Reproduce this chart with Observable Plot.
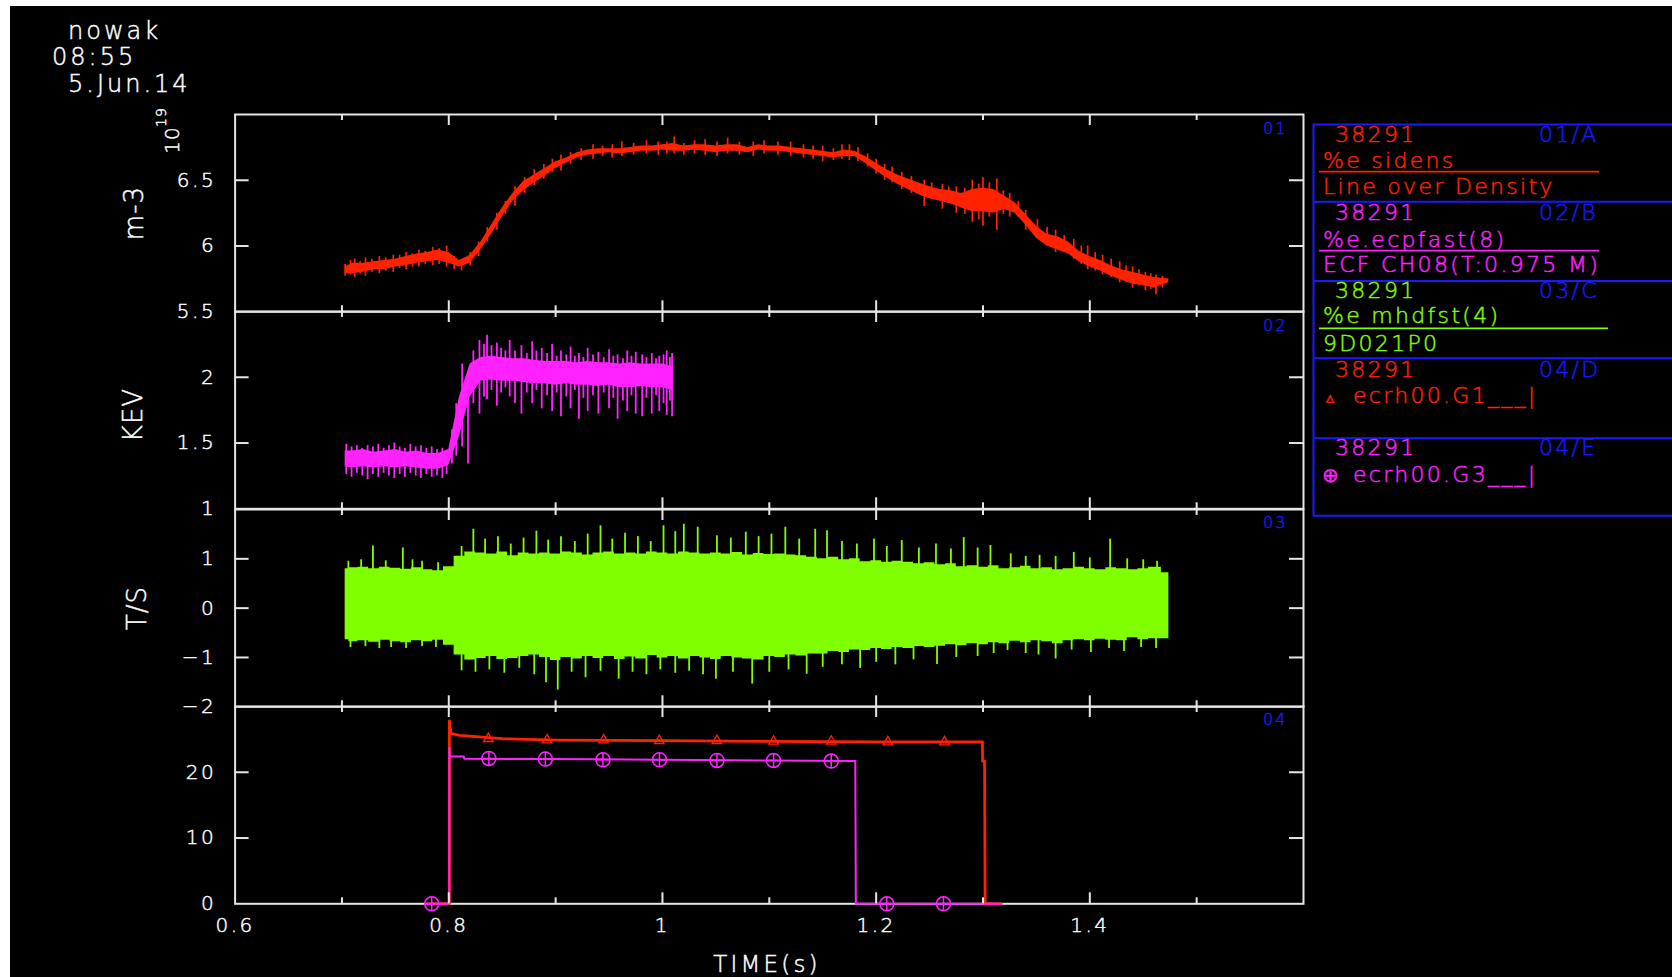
<!DOCTYPE html>
<html><head><meta charset="utf-8">
<script src="https://cdn.jsdelivr.net/npm/d3@7"></script>
<script src="https://cdn.jsdelivr.net/npm/@observablehq/plot@0.6"></script>
<style>
html,body{margin:0;padding:0;background:#fff;width:1672px;height:977px;overflow:hidden;}
#bg{position:absolute;left:10px;top:6px;width:1662px;height:971px;background:#000;}
#overlay{position:absolute;left:0;top:0;}
#panels text{stroke:currentColor;stroke-width:0.45px;}
</style></head><body>
<div id="bg"></div>
<div id="panels"></div>
<svg id="overlay" width="1672" height="977"></svg>
<script>
// ---------------- DATA ----------------
const gridTime = [0.703,0.71,0.72,0.73,0.74,0.75,0.76,0.77,0.78,0.79,0.80,0.81,0.82,0.83,0.84,0.85,0.86,0.87,0.88,0.89,0.90,0.91,0.92,0.93,0.94,0.95,0.96,0.97,0.98,0.99,1.00,1.01,1.02,1.03,1.04,1.05,1.06,1.07,1.08,1.09,1.10,1.11,1.12,1.13,1.14,1.15,1.16,1.17,1.18,1.19,1.20,1.21,1.22,1.23,1.24,1.25,1.26,1.27,1.28,1.29,1.30,1.31,1.32,1.33,1.34,1.35,1.36,1.37,1.38,1.39,1.40,1.41,1.42,1.43,1.44,1.45,1.46,1.474];

// panel 01: line-averaged density (10^19 m-3), core band of the noisy trace
const densLo = [5.79,5.79,5.80,5.82,5.82,5.84,5.85,5.87,5.88,5.89,
 5.87,5.84,5.87,5.97,6.09,6.22,6.34,6.42,6.48,6.53,
 6.59,6.63,6.67,6.69,6.70,6.71,6.70,6.71,6.72,6.72,
 6.73,6.72,6.72,6.73,6.72,6.71,6.72,6.72,6.71,6.73,
 6.72,6.72,6.71,6.70,6.69,6.68,6.67,6.68,6.68,6.63,
 6.57,6.52,6.47,6.43,6.39,6.36,6.34,6.32,6.29,6.26,
 6.26,6.25,6.28,6.25,6.16,6.06,6.00,5.97,5.94,5.88,
 5.84,5.81,5.77,5.74,5.71,5.70,5.68,5.72];
const densHi = [5.84,5.87,5.87,5.88,5.89,5.90,5.92,5.94,5.95,5.97,
 5.95,5.89,5.93,6.03,6.16,6.29,6.40,6.49,6.54,6.59,
 6.64,6.67,6.71,6.73,6.74,6.74,6.74,6.75,6.76,6.76,
 6.77,6.78,6.76,6.77,6.77,6.76,6.77,6.77,6.75,6.77,
 6.76,6.76,6.75,6.74,6.73,6.72,6.71,6.73,6.72,6.68,
 6.63,6.58,6.54,6.51,6.48,6.45,6.43,6.42,6.40,6.43,
 6.44,6.43,6.38,6.33,6.24,6.15,6.09,6.07,6.03,5.96,
 5.92,5.89,5.85,5.82,5.80,5.78,5.76,5.75];
const densSpikeT  = [0.703,0.708,0.712,0.717,0.722,0.728,0.735,0.741,0.748,0.754,0.760,0.766,0.772,0.778,0.785,0.791,0.798,0.805,0.812,0.820,0.828,0.836,0.845,0.853,0.862,0.871,0.880,0.889,0.897,0.905,0.914,0.924,0.935,0.944,0.953,0.962,0.973,0.985,0.996,1.004,1.011,1.020,1.030,1.040,1.051,1.061,1.072,1.085,1.095,1.108,1.120,1.132,1.141,1.150,1.160,1.168,1.175,1.183,1.192,1.200,1.208,1.215,1.224,1.233,1.245,1.252,1.262,1.268,1.275,1.283,1.290,1.296,1.300,1.306,1.313,1.319,1.325,1.333,1.340,1.351,1.360,1.368,1.376,1.385,1.392,1.398,1.405,1.412,1.420,1.428,1.434,1.440,1.446,1.452,1.457,1.462,1.468];
const densSpikeLo = [5.77,5.78,5.76,5.79,5.77,5.80,5.79,5.81,5.80,5.83,5.82,5.84,5.84,5.86,5.85,5.86,5.84,5.82,5.81,5.85,5.92,6.03,6.12,6.24,6.30,6.40,6.46,6.51,6.56,6.57,6.62,6.65,6.66,6.68,6.67,6.68,6.69,6.70,6.69,6.70,6.70,6.69,6.70,6.69,6.68,6.70,6.69,6.68,6.70,6.69,6.68,6.67,6.66,6.64,6.65,6.66,6.65,6.64,6.60,6.55,6.50,6.48,6.43,6.40,6.30,6.36,6.28,6.33,6.25,6.24,6.18,6.20,6.15,6.22,6.12,6.24,6.22,6.22,6.12,6.10,6.00,5.95,5.95,5.90,5.86,5.82,5.81,5.78,5.76,5.72,5.72,5.68,5.70,5.66,5.67,5.63,5.68];
const densSpikeHi = [5.86,5.89,5.90,5.88,5.91,5.90,5.92,5.91,5.93,5.93,5.95,5.94,5.97,5.96,5.99,5.98,6.00,5.92,5.89,5.95,6.03,6.14,6.25,6.34,6.45,6.52,6.58,6.62,6.66,6.69,6.71,6.74,6.77,6.76,6.77,6.79,6.78,6.80,6.79,6.79,6.83,6.78,6.80,6.81,6.79,6.82,6.79,6.79,6.80,6.79,6.79,6.77,6.76,6.76,6.74,6.77,6.77,6.75,6.70,6.66,6.62,6.60,6.56,6.53,6.50,6.48,6.47,6.45,6.45,6.44,6.50,6.47,6.52,6.48,6.51,6.42,6.40,6.34,6.27,6.20,6.14,6.12,6.08,6.05,6.00,6.00,5.95,5.93,5.90,5.88,5.85,5.84,5.82,5.80,5.79,5.78,5.77];

// panel 02: ECE channel 8 (keV), 0.70 .. 1.01 s
const ecpTime = gridTime.slice(0, 32);
const ecpLo = [1.32,1.31,1.32,1.31,1.32,1.31,1.32,1.31,1.30,1.30,
 1.33,1.55,1.85,1.97,1.98,1.97,1.97,1.96,1.95,1.95,
 1.94,1.95,1.94,1.94,1.93,1.94,1.92,1.92,1.93,1.92,
 1.92,1.90];
const ecpHi = [1.44,1.44,1.45,1.43,1.44,1.45,1.43,1.44,1.42,1.42,
 1.45,1.85,2.10,2.15,2.16,2.15,2.14,2.14,2.13,2.12,
 2.12,2.12,2.11,2.12,2.11,2.11,2.10,2.11,2.10,2.10,
 2.10,2.08];
const ecpSpikeT  = [0.704,0.709,0.714,0.719,0.724,0.729,0.734,0.739,0.744,0.749,0.754,0.759,0.764,0.769,0.774,0.779,0.784,0.789,0.794,0.798,
 0.803,0.807,0.8125,0.818,0.823,
 0.8287,0.833,0.8358,0.840,0.845,0.849,0.853,0.857,0.862,0.868,0.873,0.878,0.882,0.887,0.892,0.8967,0.901,0.905,0.910,0.914,0.918,0.9218,0.926,0.930,0.935,0.940,0.945,0.950,0.954,0.958,0.963,0.967,0.971,0.975,0.981,0.985,0.990,0.994,0.997,1.001,1.004,1.007,1.009];
const ecpSpikeLo = [1.26,1.24,1.27,1.25,1.22,1.26,1.24,1.27,1.25,1.23,1.26,1.24,1.27,1.25,1.23,1.26,1.24,1.25,1.23,1.26,
 1.34,1.40,1.47,1.34,1.80,
 1.72,1.85,1.83,1.90,1.78,1.88,1.92,1.85,1.80,1.72,1.88,1.80,1.90,1.76,1.86,1.74,1.88,1.70,1.85,1.76,1.90,1.68,1.84,1.74,1.86,1.72,1.88,1.76,1.84,1.68,1.82,1.74,1.86,1.72,1.70,1.84,1.72,1.86,1.74,1.80,1.71,1.82,1.70];
const ecpSpikeHi = [1.49,1.47,1.48,1.46,1.48,1.47,1.49,1.46,1.48,1.50,1.47,1.46,1.49,1.47,1.48,1.46,1.47,1.45,1.46,1.44,
 1.60,1.80,2.10,1.95,2.20,
 2.28,2.25,2.32,2.24,2.26,2.22,2.20,2.28,2.20,2.24,2.18,2.27,2.20,2.22,2.18,2.25,2.16,2.20,2.17,2.23,2.16,2.18,2.15,2.22,2.17,2.19,2.15,2.21,2.16,2.17,2.14,2.20,2.16,2.19,2.17,2.15,2.18,2.14,2.16,2.17,2.20,2.15,2.18];

// panel 03: magnetic pick-up coil (T/s), envelope
const mhdHi = [0.80,0.82,0.83,0.80,0.83,0.81,0.79,0.82,0.78,0.76,
 0.84,1.05,1.14,1.12,1.10,1.14,1.06,1.12,1.10,1.12,
 1.10,1.14,1.12,1.08,1.12,1.14,1.10,1.12,1.10,1.14,
 1.12,1.10,1.14,1.12,1.10,1.12,1.10,1.13,1.08,1.11,
 1.09,1.10,1.08,1.06,1.03,1.00,1.03,0.98,1.00,0.94,
 0.96,0.93,0.95,0.93,0.90,0.92,0.88,0.90,0.84,0.86,
 0.83,0.86,0.80,0.82,0.85,0.80,0.82,0.78,0.80,0.83,
 0.80,0.78,0.82,0.80,0.78,0.80,0.83,0.72];
const mhdLo = [-0.64,-0.68,-0.66,-0.69,-0.65,-0.68,-0.70,-0.66,-0.68,-0.65,
 -0.75,-0.95,-1.05,-1.02,-0.98,-1.04,-1.02,-0.98,-0.95,-1.00,
 -1.06,-1.00,-1.03,-0.98,-1.02,-0.98,-1.04,-0.99,-1.03,-0.96,
 -1.01,-0.98,-1.03,-0.98,-1.01,-1.04,-0.98,-1.01,-1.03,-1.05,
 -0.98,-1.00,-0.95,-0.97,-0.93,-0.93,-0.88,-0.90,-0.85,-0.86,
 -0.82,-0.84,-0.80,-0.82,-0.78,-0.80,-0.77,-0.74,-0.76,-0.72,
 -0.74,-0.70,-0.72,-0.67,-0.70,-0.66,-0.68,-0.72,-0.66,-0.64,
 -0.66,-0.63,-0.65,-0.66,-0.60,-0.64,-0.62,-0.62];
const mhdUpT = [0.706,0.718,0.729,0.741,0.757,0.766,0.775,0.790,0.812,0.823,0.834,0.846,0.858,0.870,0.882,0.893,0.905,0.918,0.930,0.942,0.953,0.965,0.977,0.989,1.001,1.012,1.020,1.033,1.051,1.064,1.078,1.090,1.102,1.115,1.128,1.143,1.154,1.168,1.182,1.198,1.210,1.224,1.240,1.256,1.270,1.282,1.295,1.307,1.326,1.340,1.353,1.368,1.385,1.400,1.419,1.435,1.450,1.463];
const mhdUpV = [0.95,0.98,1.26,0.96,1.22,0.98,0.95,0.92,1.25,1.60,1.40,1.45,1.30,1.42,1.56,1.38,1.45,1.35,1.50,1.67,1.40,1.52,1.45,1.35,1.67,1.55,1.70,1.64,1.47,1.42,1.54,1.45,1.50,1.64,1.40,1.60,1.57,1.35,1.30,1.40,1.25,1.37,1.22,1.30,1.20,1.43,1.22,1.27,1.10,1.05,1.07,1.05,1.13,1.02,1.40,1.00,0.98,0.95];
const mhdDnT = [0.708,0.722,0.735,0.746,0.760,0.775,0.788,0.812,0.825,0.838,0.852,0.866,0.880,0.891,0.902,0.915,0.928,0.942,0.959,0.972,0.985,0.998,1.012,1.025,1.038,1.050,1.066,1.084,1.100,1.118,1.135,1.150,1.168,1.185,1.200,1.218,1.235,1.257,1.275,1.295,1.310,1.323,1.340,1.352,1.368,1.383,1.401,1.418,1.432,1.448,1.462];
const mhdDnV = [-0.80,-0.78,-0.82,-0.80,-0.82,-0.78,-0.80,-1.27,-1.30,-1.25,-1.32,-1.22,-1.35,-1.51,-1.66,-1.30,-1.41,-1.28,-1.44,-1.30,-1.35,-1.25,-1.32,-1.28,-1.35,-1.44,-1.30,-1.54,-1.30,-1.25,-1.34,-1.20,-1.15,-1.22,-1.10,-1.15,-1.05,-1.14,-1.00,-0.98,-0.92,-0.86,-0.92,-0.95,-1.03,-0.85,-0.90,-0.82,-0.88,-0.80,-0.82];

// panel 04: ECRH gyrotron powers
const g1Time = [0.780,0.8005,0.8006,0.8020,0.810,0.850,0.900,1.000,1.100,1.200,1.2995,1.2996,1.3015,1.3020,1.317];
const g1Vals = [0,0,27.8,25.9,25.6,25.1,24.9,24.8,24.7,24.6,24.6,21.7,21.7,0,0];
const g3Time = [0.778,0.8005,0.8006,0.8010,0.8140,0.8145,0.900,1.000,1.100,1.1805,1.1810,1.317];
const g3Vals = [0,0,23.7,22.4,22.4,22.05,22.0,21.9,21.8,21.7,0,0];
const g1MarkT = [0.837,0.892,0.945,0.997,1.051,1.104,1.158,1.211,1.264];
const g1MarkV = [25.1,24.9,24.9,24.8,24.8,24.7,24.7,24.6,24.6];
const g3MarkT = [0.784,0.8375,0.8904,0.9443,0.9972,1.051,1.104,1.158,1.210,1.263];
const g3MarkV = [0,22.1,22.0,21.9,21.9,21.8,21.8,21.7,0,0];

// axes
const xLabels = [0.6,0.8,1,1.2,1.4];
const xMajor = [0.8,1.0,1.2,1.4];
const xMinor = [0.7,0.9,1.1,1.3,1.5];
const p1Labels = [5.5,6,6.5], p1Inner = [6,6.5];
const p2Labels = [1,1.5,2],   p2Inner = [1.5,2];
const p3Labels = [-2,-1,0,1], p3Inner = [-1,0,1];
const p4Labels = [0,10,20],   p4Inner = [10,20];

// legend texts
const legendShot = "38291";
const legendIds = ["01/A","02/B","03/C","04/D","04/E"];
const legendSignals = ["%e sidens","%e.ecpfast(8)","%e mhdfst(4)","ecrh00.G1___|","ecrh00.G3___|"];
const legendDescr = ["Line over Density","ECF CH08(T:0.975 M)","9D021P0"];
const headerLines = ["nowak","08:55","5.Jun.14"];
const yTitles = ["m-3","KEV","T/S"];
const panelIds = ["01","02","03","04"];

// ---------------- STYLE ----------------
const RED = "#ff2200", MAG = "#ff22ff", GRN = "#80ff00", BLUE = "#1a1aff", FRAME = "#e6e6e6";
const FONT = "DejaVu Sans";
const WEIGHT = 200;
const fmt = d3.format("~g");

const rows = (t, a, b) => t.map((x, i) => ({t: x, a: a[i], b: b ? b[i] : undefined}));

const circlePlus = {
  draw(ctx, size) {
    const r = Math.sqrt(size / Math.PI);
    ctx.moveTo(r, 0); ctx.arc(0, 0, r, 0, 2 * Math.PI);
    ctx.moveTo(-r, 0); ctx.lineTo(r, 0);
    ctx.moveTo(0, -r); ctx.lineTo(0, r);
  }
};

const H = 197.3, W = 1320, ML = 234.6, MR = 17;
const IW = W - ML - MR;
const panelTops = [114, 311.3, 508.6, 705.9];

function makePanel(idx, domain, yLabels, yInner, dataMarks, isBottom) {
  const mt = 12, mb = isBottom ? 62 : 12;
  const svg = Plot.plot({
    width: W, height: H + mt + mb,
    marginLeft: ML, marginRight: MR, marginTop: mt, marginBottom: mb,
    style: {background: "transparent", color: "#ffffff", fontFamily: FONT, fontWeight: WEIGHT, fontSize: "20px", letterSpacing: "2.5px", overflow: "visible"},
    x: isBottom
      ? {domain: [0.6, 1.6], axis: "bottom", ticks: xLabels, tickSize: 0, tickPadding: 14, tickFormat: fmt, label: null}
      : {domain: [0.6, 1.6], axis: null},
    y: {domain, axis: "left", ticks: yLabels, tickSize: 0, tickPadding: 19, tickFormat: fmt, label: null},
    marks: [
      Plot.frame({stroke: FRAME, strokeWidth: 2}),
      ...dataMarks,
      Plot.tickX(xMajor, {x: d => d, stroke: FRAME, strokeWidth: 2, insetBottom: H - 11}),
      Plot.tickX(xMajor, {x: d => d, stroke: FRAME, strokeWidth: 2, insetTop: H - 11}),
      Plot.tickX(xMinor, {x: d => d, stroke: FRAME, strokeWidth: 2, insetBottom: H - 6}),
      Plot.tickX(xMinor, {x: d => d, stroke: FRAME, strokeWidth: 2, insetTop: H - 6}),
      Plot.tickY(yInner, {y: d => d, stroke: FRAME, strokeWidth: 2, insetRight: IW - 14}),
      Plot.tickY(yInner, {y: d => d, stroke: FRAME, strokeWidth: 2, insetLeft: IW - 14})
    ]
  });
  svg.style.position = "absolute";
  svg.style.left = "0px";
  svg.style.top = (panelTops[idx] - mt) + "px";
  document.getElementById("panels").appendChild(svg);
}

// panel 1
const densRows = rows(gridTime, densLo, densHi);
const densSpikes = densSpikeT.map((t, i) => ({t, a: densSpikeLo[i], b: densSpikeHi[i]}));
makePanel(0, [5.5, 7], p1Labels, p1Inner, [
  Plot.areaY(densRows, {x: "t", y1: "a", y2: "b", fill: RED}),
  Plot.ruleX(densSpikes, {x: "t", y1: "a", y2: "b", stroke: RED, strokeWidth: 1.7})
], false);

// panel 2
const ecpRows = rows(ecpTime, ecpLo, ecpHi);
const ecpSpikes = ecpSpikeT.map((t, i) => ({t, a: ecpSpikeLo[i], b: ecpSpikeHi[i]}));
makePanel(1, [1, 2.5], p2Labels, p2Inner, [
  Plot.areaY(ecpRows, {x: "t", y1: "a", y2: "b", fill: MAG}),
  Plot.ruleX(ecpSpikes, {x: "t", y1: "a", y2: "b", stroke: MAG, strokeWidth: 1.8})
], false);

// panel 3
const mhdRows = rows(gridTime, mhdLo, mhdHi);
const mhdUp = mhdUpT.map((t, i) => ({t, v: mhdUpV[i]}));
const mhdDn = mhdDnT.map((t, i) => ({t, v: mhdDnV[i]}));
makePanel(2, [-2, 2], p3Labels, p3Inner, [
  Plot.areaY(mhdRows, {x: "t", y1: "a", y2: "b", fill: GRN, curve: "step"}),
  Plot.ruleX(mhdUp, {x: "t", y1: 0, y2: "v", stroke: GRN, strokeWidth: 1.8}),
  Plot.ruleX(mhdDn, {x: "t", y1: 0, y2: "v", stroke: GRN, strokeWidth: 1.8})
], false);

// panel 4
const g1Rows = rows(g1Time, g1Vals);
const g3Rows = rows(g3Time, g3Vals);
const g1Marks = rows(g1MarkT, g1MarkV);
const g3Marks = rows(g3MarkT, g3MarkV);
makePanel(3, [0, 30], p4Labels, p4Inner, [
  Plot.line(g1Rows, {x: "t", y: "a", stroke: RED, strokeWidth: 2.8}),
  Plot.dot(g1Marks, {x: "t", y: "a", symbol: "triangle", r: 3.6, stroke: RED, fill: "none", strokeWidth: 1.3}),
  Plot.line(g3Rows, {x: "t", y: "a", stroke: MAG, strokeWidth: 2}),
  Plot.dot(g3Marks, {x: "t", y: "a", symbol: circlePlus, r: 7, stroke: MAG, fill: "none", strokeWidth: 1.5})
], true);

// ---------------- TEXT OVERLAY ----------------
const ov = d3.select("#overlay");
function txt(x, y, s, {size = 22, fill = "#fff", ls = 2.3, anchor = "start", rotate = false} = {}) {
  const t = ov.append("text")
    .attr("font-family", FONT).attr("font-size", size).attr("font-weight", WEIGHT)
    .attr("fill", fill).attr("stroke", fill).attr("stroke-width", 0.45)
    .attr("text-anchor", anchor)
    .style("letter-spacing", ls + "px")
    .text(s);
  if (rotate) t.attr("transform", `translate(${x},${y}) rotate(-90)`);
  else t.attr("x", x).attr("y", y);
  return t;
}
// header
txt(68, 39, headerLines[0], {size: 24, ls: 3});
txt(52, 65, headerLines[1], {size: 24, ls: 3});
txt(68, 92, headerLines[2], {size: 24, ls: 3});
// y titles
txt(143, 213, yTitles[0], {size: 26, ls: 1, anchor: "middle", rotate: true});
txt(142, 415, yTitles[1], {size: 26, ls: 1, anchor: "middle", rotate: true});
txt(146, 608, yTitles[2], {size: 26, ls: 1, anchor: "middle", rotate: true});
txt(179, 140, "10", {size: 20, ls: 1, anchor: "middle", rotate: true});
txt(166, 117, "19", {size: 14, ls: 1, anchor: "middle", rotate: true});
// panel ids
panelIds.forEach((s, i) => txt(1263, panelTops[i] + 19.5, s, {size: 16, ls: 2, fill: BLUE}));
// x title
txt(767, 971.5, "TIME(s)", {size: 23, ls: 3.2, anchor: "middle"});

// legend box
const LX = 1313.5, LT = 124.5, LB = 515.7, LR = 1690;
const dividers = [201.7, 281, 358.3, 438.3];
ov.append("rect").attr("x", LX).attr("y", LT).attr("width", LR - LX).attr("height", LB - LT)
  .attr("fill", "none").attr("stroke", BLUE).attr("stroke-width", 2);
dividers.forEach(y => ov.append("line").attr("x1", LX).attr("x2", LR).attr("y1", y).attr("y2", y)
  .attr("stroke", BLUE).attr("stroke-width", 2));
const secColor = [RED, MAG, GRN, RED, MAG];
const shotBase = [142, 220, 298.3, 376.7, 455];
shotBase.forEach((y, i) => {
  txt(1335, y, legendShot, {fill: secColor[i]});
  txt(1539, y, legendIds[i], {fill: BLUE});
});
const sigBase = [168, 246.7, 323.3];
const underline = [[171.7, 1599], [250.7, 1599], [328.3, 1608]];
sigBase.forEach((y, i) => {
  txt(1323, y, legendSignals[i], {fill: secColor[i]});
  ov.append("line").attr("x1", 1319).attr("x2", underline[i][1]).attr("y1", underline[i][0]).attr("y2", underline[i][0])
    .attr("stroke", secColor[i]).attr("stroke-width", 1.8);
  txt(1323, [194, 271.7, 350.7][i], legendDescr[i], {fill: secColor[i]});
});
txt(1326, 403, "\u25B5", {size: 16, ls: 0, fill: RED});
txt(1353, 403.3, legendSignals[3], {fill: RED});
txt(1322, 481.7, "\u2295", {size: 20, ls: 0, fill: MAG});
txt(1353, 481.7, legendSignals[4], {fill: MAG});
</script>
</body></html>
